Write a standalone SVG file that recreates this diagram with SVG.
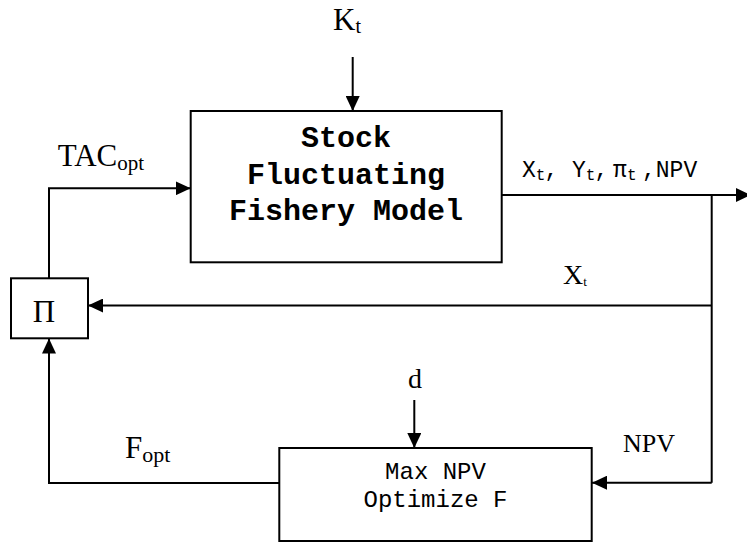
<svg xmlns="http://www.w3.org/2000/svg" width="747" height="542" viewBox="0 0 747 542">
<style>
.box{fill:#fff;stroke:#000;stroke-width:2}
.ln{fill:none;stroke:#000;stroke-width:2}
.ser{font-family:"Liberation Serif","Times New Roman",serif;fill:#000}
.mono{font-family:"Liberation Mono","Courier New",monospace;fill:#000}
.bold{font-weight:bold}
</style>
<defs>
<marker id="ah" markerUnits="userSpaceOnUse" viewBox="0 0 15 14" refX="15" refY="7" markerWidth="15" markerHeight="14" orient="auto">
<path d="M0,0 L15,7 L0,14 z" fill="#000"/>
</marker>
</defs>
<rect width="747" height="542" fill="#fff"/>
<g id="connectors">
<line class="ln" x1="352.7" y1="57" x2="352.7" y2="111" marker-end="url(#ah)"/>
<polyline class="ln" points="49,278 49,188.3 190.7,188.3" marker-end="url(#ah)"/>
<line class="ln" x1="501.7" y1="195" x2="751" y2="195" marker-end="url(#ah)"/>
<line class="ln" x1="711.7" y1="195" x2="711.7" y2="482.7"/>
<line class="ln" x1="711.7" y1="305.5" x2="88" y2="305.5" marker-end="url(#ah)"/>
<line class="ln" x1="711.7" y1="482.7" x2="592" y2="482.7" marker-end="url(#ah)"/>
<line class="ln" x1="414.3" y1="400" x2="414.3" y2="448" marker-end="url(#ah)"/>
<polyline class="ln" points="279,483 49,483 49,338.5" marker-end="url(#ah)"/>
</g>
<g id="labels">
<text class="ser" x="333" y="30" font-size="31">K<tspan font-size="20" dy="3">t</tspan></text>
<text class="ser" x="57.7" y="166" font-size="31">TAC<tspan font-size="21" dy="4">opt</tspan></text>
<text class="mono" y="177" font-size="23"><tspan x="522">X</tspan><tspan x="535.8" dy="3" font-size="16">t</tspan><tspan x="544.5" dy="-3">,</tspan><tspan x="572">Y</tspan><tspan x="585.8" dy="3" font-size="16">t</tspan><tspan x="594.5" dy="-3">,</tspan><tspan x="613">π</tspan><tspan x="627" dy="3" font-size="16">t</tspan><tspan x="642" dy="-3">,NPV</tspan></text>
<text class="ser" x="563" y="284" font-size="28">X<tspan font-size="13" dy="2">t</tspan></text>
<text class="ser" x="415" y="388" font-size="28" text-anchor="middle">d</text>
<text class="ser" x="125" y="458" font-size="31">F<tspan font-size="22" dy="4">opt</tspan></text>
<text class="ser" x="623" y="451.7" font-size="26">NPV</text>
</g>
<g id="model">
<rect class="box" x="190.7" y="111" width="311" height="151.3"/>
<text class="mono bold" x="346" font-size="30" text-anchor="middle"><tspan x="346" y="147">Stock</tspan><tspan x="346" y="184">Fluctuating</tspan><tspan x="346" y="220">Fishery Model</tspan></text>
</g>
<g id="pi">
<rect class="box" x="11" y="278.3" width="77" height="60"/>
<text class="ser" x="44" y="321.7" font-size="31" text-anchor="middle">Π</text>
</g>
<g id="optimizer">
<rect class="box" x="279.3" y="448" width="312.4" height="93"/>
<text class="mono" font-size="24" text-anchor="middle"><tspan x="435.5" y="479.3">Max NPV</tspan><tspan x="435.5" y="506.7">Optimize F</tspan></text>
</g>
</svg>
